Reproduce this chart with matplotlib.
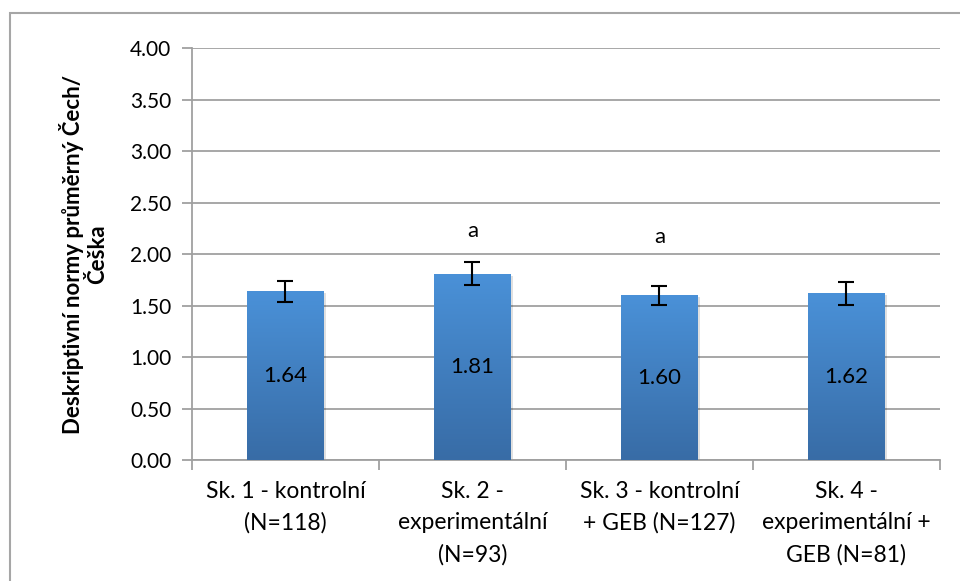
import numpy as np
import matplotlib.pyplot as plt
from matplotlib.colors import LinearSegmentedColormap
from matplotlib.patches import Rectangle

plt.rcParams['font.family'] = ['Lato', 'DejaVu Sans']

# data
categories = ["Sk. 1 - kontrolní\n(N=118)", "Sk. 2 -\nexperimentální\n(N=93)",
              "Sk. 3 - kontrolní\n+ GEB (N=127)", "Sk. 4 -\nexperimentální +\nGEB (N=81)"]
means = [1.64, 1.81, 1.60, 1.62]
errors = [0.10, 0.11, 0.09, 0.11]
value_labels = ["1.64", "1.81", "1.60", "1.62"]
sig_letters = ["", "a", "a", ""]
sig_y = [0, 2.23, 2.17, 0]
yticks = [0.0, 0.5, 1.0, 1.5, 2.0, 2.5, 3.0, 3.5, 4.0]

fig = plt.figure(figsize=(9.6, 5.81), dpi=100)
ax = fig.add_axes([0.2, 0.208, 0.779, 0.709])

# outer chart border (Excel style)
fig.patches.append(Rectangle((10 / 960, -0.1), 1.0, 1 - 13 / 581 + 0.1,
                             transform=fig.transFigure, fill=False,
                             edgecolor='#A6A6A6', linewidth=1.5))

x = np.arange(len(means))
width = 0.41
cmap = LinearSegmentedColormap.from_list('bar', ['#386CA6', '#4A91D8'])

bars = ax.bar(x, means, width=width, color='none', zorder=3)
grad = np.linspace(0, 1, 256).reshape(-1, 1)
for b in bars:
    x0, y0 = b.get_x(), b.get_y()
    w, h = b.get_width(), b.get_height()
    # soft shadow
    ax.add_patch(Rectangle((x0 + 0.012, y0 - 0.02), w, h, color='#000000',
                           alpha=0.12, zorder=2, linewidth=0))
    im = ax.imshow(grad, extent=[x0, x0 + w, y0, y0 + h], origin='lower',
                   cmap=cmap, aspect='auto', zorder=3)
    im.set_clip_path(b)

ax.errorbar(x, means, yerr=errors, fmt='none', ecolor='black', elinewidth=1.5,
            capsize=6, capthick=1.5, zorder=4)

for i in range(len(means)):
    ax.text(x[i], means[i] / 2, value_labels[i], ha='center', va='center',
            fontsize=16, zorder=5)
    if sig_letters[i]:
        ax.text(x[i], sig_y[i], sig_letters[i], ha='center', va='center',
                fontsize=16, zorder=5)

ax.set_xlim(-0.5, len(means) - 0.5)
ax.set_ylim(0, 4)
ax.set_yticks(yticks)
ax.set_yticklabels(["%.2f" % t for t in yticks], fontsize=15)
ax.yaxis.grid(True, color='#A0A0A0', linewidth=1.3, zorder=0)
ax.set_axisbelow(True)

ax.set_xticks(np.arange(-0.5, len(means), 1.0))
ax.set_xticklabels([])
ax.set_xticks(x, minor=True)
ax.set_xticklabels(categories, minor=True, fontsize=16.5, linespacing=1.6,
                   va='top')
ax.tick_params(axis='x', which='minor', length=0, pad=15)
ax.tick_params(axis='x', which='major', length=7, color='#A0A0A0', width=1.3)
ax.tick_params(axis='y', length=7, color='#A0A0A0', width=1.3, pad=8)

for s in ['top', 'right']:
    ax.spines[s].set_visible(False)
for s in ['left', 'bottom']:
    ax.spines[s].set_color('#A0A0A0')
    ax.spines[s].set_linewidth(1.3)

ax.set_ylabel("Deskriptivní normy průměrný Čech/\nČeška", fontsize=16,
              fontweight='bold', labelpad=16, linespacing=1.15)

fig.savefig('out.png', dpi=100)
